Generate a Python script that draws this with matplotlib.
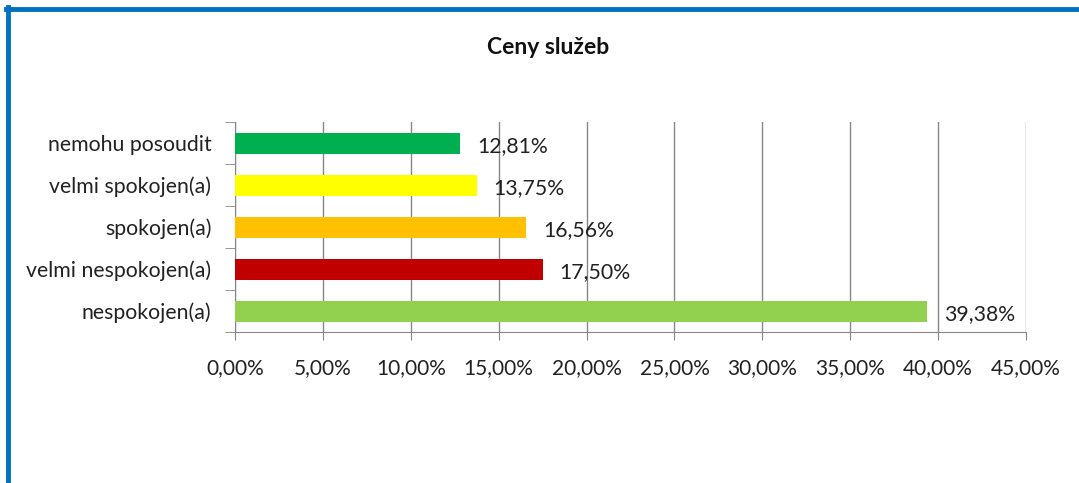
import matplotlib.pyplot as plt
from matplotlib.lines import Line2D
from matplotlib.ticker import FuncFormatter

plt.rcParams['font.family'] = ['Lato', 'DejaVu Sans']

categories = ['nespokojen(a)', 'velmi nespokojen(a)', 'spokojen(a)',
              'velmi spokojen(a)', 'nemohu posoudit']
values = [39.38, 17.50, 16.56, 13.75, 12.81]
colors = ['#92D050', '#C00000', '#FFC000', '#FFFF00', '#00B050']
xticks = [0, 5, 10, 15, 20, 25, 30, 35, 40, 45]

fig = plt.figure(figsize=(10.79, 4.83), dpi=100)
ax = fig.add_axes([235 / 1079, 1 - 332 / 483, 791 / 1079, 210 / 483])

ypos = range(len(categories))
ax.barh(ypos, values, height=0.5, color=colors, zorder=3)

for y, v in zip(ypos, values):
    ax.text(v + 0.95, y - 0.08, f'{v:.2f}%'.replace('.', ','),
            va='center', ha='left', fontsize=15.3, color='#222222', zorder=4)

ax.set_xlim(0, 45)
ax.set_ylim(-0.5, len(categories) - 0.5)
ax.set_xticks(xticks)
ax.xaxis.set_major_formatter(FuncFormatter(lambda x, p: f'{x:.2f}%'.replace('.', ',')))
ax.set_yticks(ypos)
ax.set_yticklabels(categories)
# tick marks between categories like Excel
ax.set_yticks([i - 0.5 for i in range(len(categories) + 1)], minor=True)
ax.tick_params(axis='y', which='major', length=0, pad=17, labelsize=15.3, labelcolor='#222222')
ax.tick_params(axis='y', which='minor', length=7, color='#868686')
ax.tick_params(axis='x', length=6, color='#868686', pad=13, labelsize=15, labelcolor='#222222')

ax.grid(axis='x', color='#868686', linewidth=1, zorder=0)
for s in ['top', 'right']:
    ax.spines[s].set_visible(False)
for s in ['left', 'bottom']:
    ax.spines[s].set_color('#868686')

fig.text(548 / 1079, 1 - 47 / 483, 'Ceny služeb', ha='center', va='center',
         fontsize=16.5, fontweight='bold', color='#111111')

# blue frame (top and left)
fig.add_artist(Line2D([6 / 1079, 1], [1 - 9 / 483, 1 - 9 / 483], color='#0070C0',
                      linewidth=3.5, transform=fig.transFigure))
fig.add_artist(Line2D([8 / 1079, 8 / 1079], [1 - 7 / 483, 0], color='#0070C0',
                      linewidth=3.5, transform=fig.transFigure))

fig.savefig('out.png', dpi=100)
